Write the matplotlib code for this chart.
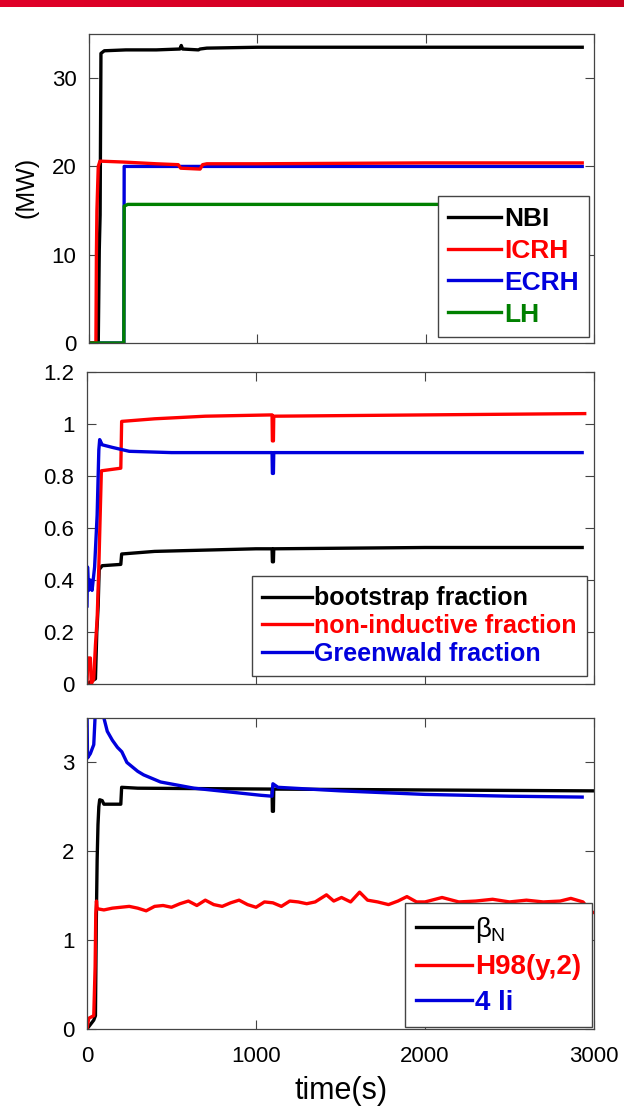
import numpy as np
import matplotlib
matplotlib.use("Agg")
import matplotlib.pyplot as plt

plt.rcParams['font.family'] = ['Liberation Sans', 'DejaVu Sans']
plt.rcParams['mathtext.fontset'] = 'custom'
plt.rcParams['mathtext.rm'] = 'Liberation Sans'
plt.rcParams['mathtext.it'] = 'Liberation Sans'

BLACK = '#000000'
RED = '#ff0000'
BLUE = '#0000dd'
GREEN = '#008000'

# ---- panel 1: heating power (MW)
nbi_t = [0, 55, 61, 66, 71, 91, 219, 400, 540, 548, 556, 650, 660, 700, 1000, 2000, 2930]
nbi_v = [0, 0, 10.5, 14.5, 32.8, 33.1, 33.2, 33.2, 33.3, 33.7, 33.3, 33.2, 33.3, 33.4, 33.5, 33.5, 33.5]
icrh_t = [0, 41, 44, 47, 55, 65, 200, 400, 530, 545, 660, 675, 700, 1000, 2000, 2930]
icrh_v = [0, 0, 10, 15, 20.0, 20.6, 20.5, 20.3, 20.2, 19.8, 19.7, 20.2, 20.3, 20.3, 20.4, 20.4]
ecrh_t = [0, 207, 209, 2930]
ecrh_v = [0, 0, 20.0, 20.0]
lh_t = [0, 207, 209, 230, 2930]
lh_v = [0, 0, 15.5, 15.7, 15.7]

# ---- panel 2: fractions
boot_t = [0, 50, 58, 66, 72, 90, 200, 205, 400, 700, 1000, 1095, 1097, 1103, 1105, 2000, 2930]
boot_v = [0, 0.02, 0.2, 0.3, 0.44, 0.455, 0.46, 0.50, 0.51, 0.515, 0.52, 0.52, 0.47, 0.47, 0.52, 0.525, 0.525]
ni_t = [0, 5, 20, 25, 40, 50, 60, 70, 78, 85, 200, 205, 400, 700, 1095, 1097, 1103, 1105, 2000, 2945]
ni_v = [0, 0.1, 0.1, 0.0, 0.02, 0.15, 0.25, 0.45, 0.65, 0.82, 0.83, 1.01, 1.02, 1.03, 1.035, 0.935, 0.935, 1.03, 1.035, 1.04]
gw_t = [0, 3, 10, 20, 30, 45, 60, 70, 75, 90, 150, 250, 500, 1095, 1097, 1103, 1105, 2930]
gw_v = [0.3, 0.45, 0.36, 0.4, 0.36, 0.45, 0.65, 0.9, 0.94, 0.92, 0.91, 0.895, 0.89, 0.89, 0.81, 0.81, 0.89, 0.89]

# ---- panel 3: betaN, H98, 4li
bn_t = [0, 40, 50, 55, 60, 65, 70, 75, 90, 100, 200, 205, 300, 1095, 1097, 1103, 1105, 2000, 3000]
bn_v = [0, 0.1, 0.15, 1.2, 1.9, 2.3, 2.5, 2.58, 2.57, 2.53, 2.53, 2.72, 2.71, 2.70, 2.45, 2.45, 2.70, 2.69, 2.68]
h98_t = [0, 10, 40, 48, 52, 56, 60, 70, 100, 150, 200, 250, 300, 350, 400, 450, 500, 550, 600,
         650, 700, 750, 800, 850, 900, 950, 1000, 1050, 1100, 1150, 1200, 1250, 1300, 1350, 1417,
         1460, 1506, 1560, 1613, 1660, 1720, 1784, 1840, 1893, 1950, 2000, 2101, 2200, 2300, 2400,
         2500, 2600, 2700, 2800, 2863, 2935, 2980, 3000]
h98_v = [0, 0.12, 0.15, 0.7, 1.3, 1.44, 1.36, 1.35, 1.34, 1.36, 1.37, 1.38, 1.36, 1.33, 1.38, 1.39,
         1.37, 1.41, 1.44, 1.39, 1.45, 1.40, 1.38, 1.42, 1.45, 1.40, 1.37, 1.43, 1.42, 1.38, 1.44,
         1.43, 1.41, 1.43, 1.51, 1.44, 1.48, 1.43, 1.54, 1.45, 1.43, 1.40, 1.44, 1.49, 1.43, 1.43,
         1.48, 1.43, 1.44, 1.46, 1.43, 1.45, 1.43, 1.44, 1.47, 1.43, 1.32, 1.31]
li_t = [0, 3, 20, 40, 50, 60, 95, 100, 120, 150, 180, 206, 236, 300, 335, 435, 633, 831, 1030,
        1095, 1100, 1130, 1500, 2000, 2500, 2930]
li_v = [3.6, 3.05, 3.1, 3.2, 3.6, 3.8, 3.8, 3.5, 3.35, 3.25, 3.17, 3.12, 3.0, 2.9, 2.86, 2.78,
        2.71, 2.67, 2.63, 2.62, 2.76, 2.72, 2.68, 2.64, 2.62, 2.61]

W, H = 624, 1106
fig = plt.figure(figsize=(W / 100, H / 100), dpi=100)

# red bar at the top
bar = fig.add_axes([0, 1 - 7.5 / H, 1, 7.5 / H])
grad = np.linspace(0, 1, 256)[None, :, None]
c0 = np.array([0.88, 0.0, 0.16])
c1 = np.array([0.78, 0.0, 0.12])
bar.imshow(c0 + (c1 - c0) * grad, aspect='auto')
bar.axis('off')


def make_ax(px_left, px_top, px_right, px_bottom):
    ax = fig.add_axes([px_left / W, 1 - px_bottom / H,
                       (px_right - px_left) / W, (px_bottom - px_top) / H])
    ax.set_xlim(0, 3000)
    ax.set_xticks([0, 1000, 2000, 3000])
    for s in ax.spines.values():
        s.set_color('#444444')
        s.set_linewidth(0.9)
    ax.tick_params(direction='in', top=True, right=True, length=6.5, width=0.8,
                   color='#444444', labelsize=16)
    ax.tick_params(axis='y', pad=9)
    ax.tick_params(axis='x', pad=12)
    ax.yaxis.set_major_formatter(matplotlib.ticker.FormatStrFormatter('%g'))
    return ax


def add_legend(ax, handles, labels, colors, size, anchor, spacing):
    leg = ax.legend(handles, labels, loc='lower right', bbox_to_anchor=anchor,
                    borderaxespad=0, fancybox=False, framealpha=1,
                    edgecolor='#444444', handlelength=2.0, handletextpad=0.1,
                    labelspacing=spacing, borderpad=0.4,
                    prop={'weight': 'bold', 'size': size})
    leg.get_frame().set_linewidth(1.0)
    for txt, c in zip(leg.get_texts(), colors):
        txt.set_color(c)
    return leg


lw = 2.4

ax1 = make_ax(89, 34, 594, 343)
ax1.set_ylim(0, 35)
ax1.set_yticks([0, 10, 20, 30])
ax1.set_xticklabels([])
l1, = ax1.plot(nbi_t, nbi_v, color=BLACK, lw=lw, zorder=2)
l3, = ax1.plot(ecrh_t, ecrh_v, color=BLUE, lw=lw, zorder=2.1)
l2, = ax1.plot(icrh_t, icrh_v, color=RED, lw=lw, zorder=2.2)
l4, = ax1.plot(lh_t, lh_v, color=GREEN, lw=lw, zorder=2.3)
add_legend(ax1, [l1, l2, l3, l4], ['NBI', 'ICRH', 'ECRH', 'LH'],
           [BLACK, RED, BLUE, GREEN], 19, (0.990, 0.019), 0.3)
fig.text(27 / W, 1 - 187 / H, '(MW)', rotation=90, ha='center', va='center', fontsize=18)

ax2 = make_ax(87, 372, 594, 684)
ax2.set_ylim(0, 1.2)
ax2.set_yticks([0, 0.2, 0.4, 0.6, 0.8, 1.0, 1.2])
ax2.set_xticklabels([])
m1, = ax2.plot(boot_t, boot_v, color=BLACK, lw=lw)
m2, = ax2.plot(ni_t, ni_v, color=RED, lw=lw)
m3, = ax2.plot(gw_t, gw_v, color=BLUE, lw=lw)
add_legend(ax2, [m1, m2, m3],
           ['bootstrap fraction', 'non-inductive fraction', 'Greenwald fraction'],
           [BLACK, RED, BLUE], 18, (0.986, 0.026), 0.15)

ax3 = make_ax(87, 718, 594, 1029)
ax3.set_ylim(0, 3.5)
ax3.set_yticks([0, 1, 2, 3])
n1, = ax3.plot(bn_t, bn_v, color=BLACK, lw=lw)
n2, = ax3.plot(h98_t, h98_v, color=RED, lw=lw)
n3, = ax3.plot(li_t, li_v, color=BLUE, lw=lw)
add_legend(ax3, [n1, n2, n3], [r'$\beta_\mathrm{N}$', 'H98(y,2)', '4 li'],
           [BLACK, RED, BLUE], 20, (0.996, 0.006), 0.35)
fig.text(341 / W, 1 - 1091 / H, 'time(s)', ha='center', va='center', fontsize=22)

fig.savefig('out.png', dpi=100)
